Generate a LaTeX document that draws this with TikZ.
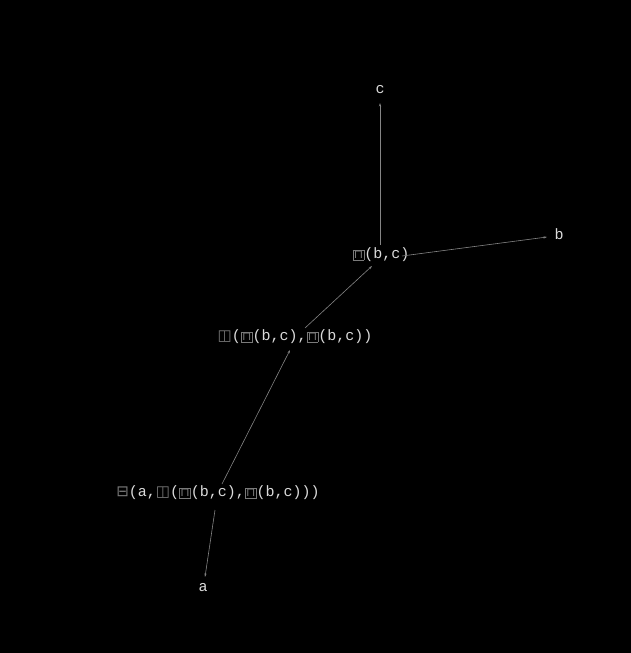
\documentclass[tikz,border=0pt]{standalone}
\usepackage{fontspec}
\setmainfont{Liberation Mono}
\newfontfamily\symfont{DejaVu Sans}
\usetikzlibrary{arrows.meta}
\definecolor{labelgray}{HTML}{DADADA}
\definecolor{edgegray}{HTML}{858585}
\definecolor{tofugray}{HTML}{7A7A7A}
\newcommand{\opminus}{{\color{tofugray}\symfont ⊟}}
\newcommand{\oppair}{{\color{tofugray}\symfont ◫}}
\newcommand{\opcap}{{\color{tofugray}\setlength{\fboxsep}{0.8pt}\setlength{\fboxrule}{0.4pt}\fbox{\symfont\fontsize{12}{12}\selectfont ⊓}}}
\begin{document}
\begin{tikzpicture}[x=1pt, y=1pt, term/.style={text=labelgray, inner sep=0pt, font=\fontsize{15}{15}\selectfont}, edge/.style={draw=edgegray, line width=0.6pt, -{Stealth[length=3.5pt,width=2.2pt]}}]
      \fill[black] (0,0) rectangle (631,-653);
      \useasboundingbox (0,0) rectangle (631,-653);

      \node[term] (c) at (380,-90) {c};
      \node[term] (b) at (559,-234) {b};
      \node[term] (bc) at (381,-255) {\opcap(b,c)};
      \node[term] (pair) at (295,-337) {\oppair(\opcap(b,c),\opcap(b,c))};
      \node[term] (root) at (218,-493) {\opminus(a,\oppair(\opcap(b,c),\opcap(b,c)))};
      \node[term] (a) at (203,-588) {a};

      \draw[edge] ([shift={(-1,10)}]bc.center) -- ([shift={(0,-13)}]c.center);
      \draw[edge] ([shift={(21,-1)}]bc.center) -- ([shift={(-12,-3)}]b.center);
      \draw[edge] ([shift={(10,9)}]pair.center) -- ([shift={(-9,-11)}]bc.center);
      \draw[edge] ([shift={(4,9)}]root.center) -- ([shift={(-5,-13)}]pair.center);
      \draw[edge] ([shift={(-3,-17)}]root.center) -- ([shift={(2,11)}]a.center);
    \end{tikzpicture}
\end{document}
